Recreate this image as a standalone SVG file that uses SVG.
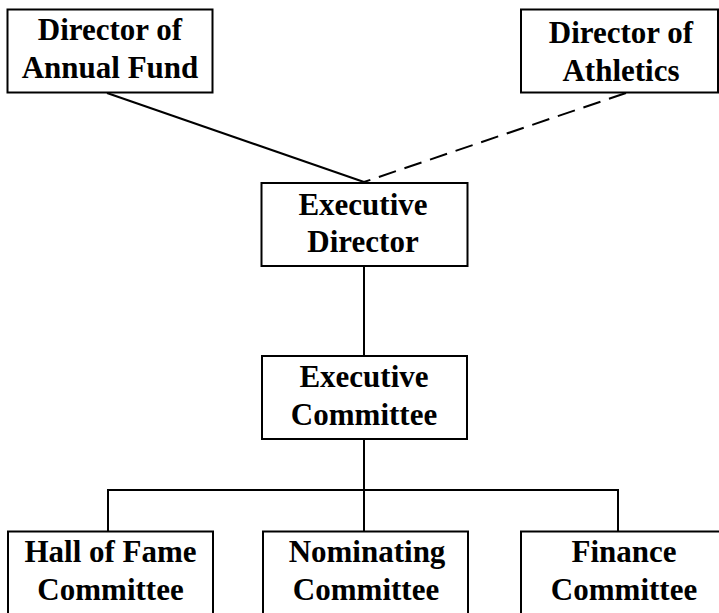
<svg xmlns="http://www.w3.org/2000/svg" width="719" height="613" viewBox="0 0 719 613">
<style>
.box{fill:#fff;stroke:#000;stroke-width:2}
.t{font-family:"Liberation Serif","Times New Roman",serif;font-weight:bold;font-size:31px;text-anchor:middle;fill:#000}
.ln{stroke:#000;stroke-width:2;fill:none}
.dash{stroke-dasharray:18 9}
</style>
<rect width="719" height="613" fill="#fff"/>
<g id="connectors">
<line class="ln" x1="107" y1="93" x2="364" y2="182"/>
<line class="ln dash" x1="626" y1="93" x2="364" y2="182"/>
<line class="ln" x1="364" y1="266" x2="364" y2="356"/>
<line class="ln" x1="364" y1="439" x2="364" y2="531"/>
<polyline class="ln" points="108,531 108,490 618,490 618,531"/>
</g>
<g id="director-annual-fund">
<rect class="box" x="7.5" y="9.5" width="205" height="83"/>
<text class="t" x="110" y="39.5">Director of</text>
<text class="t" x="110" y="77.5">Annual Fund</text>
</g>
<g id="director-athletics">
<rect class="box" x="521" y="9.5" width="197" height="83"/>
<text class="t" x="621" y="42.5">Director of</text>
<text class="t" x="621" y="81">Athletics</text>
</g>
<g id="executive-director">
<rect class="box" x="261.5" y="183" width="206" height="83"/>
<text class="t" x="363" y="214.5">Executive</text>
<text class="t" x="363" y="252">Director</text>
</g>
<g id="executive-committee">
<rect class="box" x="262" y="356" width="205" height="83"/>
<text class="t" x="364" y="387">Executive</text>
<text class="t" x="364" y="425">Committee</text>
</g>
<g id="hall-of-fame-committee">
<rect class="box" x="8" y="531.5" width="205" height="100"/>
<text class="t" x="110.5" y="562">Hall of Fame</text>
<text class="t" x="110.5" y="600">Committee</text>
</g>
<g id="nominating-committee">
<rect class="box" x="263" y="531.5" width="205" height="100"/>
<text class="t" x="367" y="562">Nominating</text>
<text class="t" x="366" y="600">Committee</text>
</g>
<g id="finance-committee">
<rect class="box" x="521" y="531.5" width="206" height="100"/>
<text class="t" x="624" y="562">Finance</text>
<text class="t" x="624" y="600">Committee</text>
</g>
</svg>
